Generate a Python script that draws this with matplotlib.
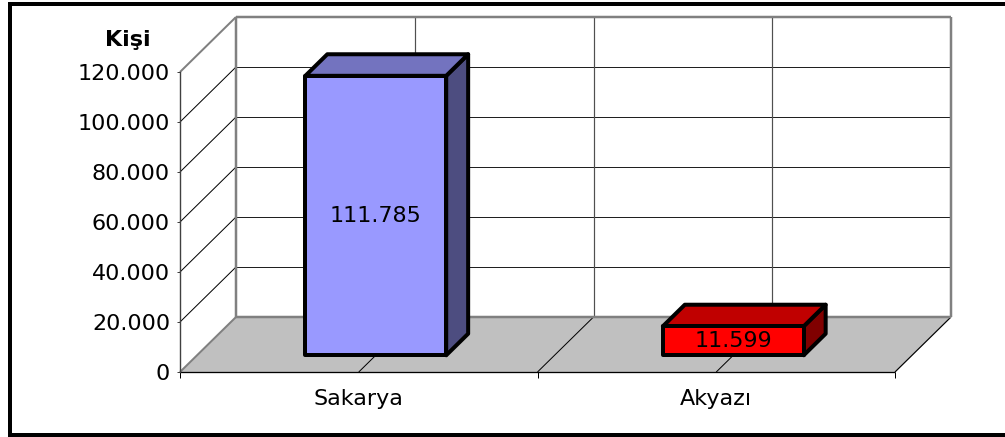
import matplotlib
matplotlib.use("Agg")
import matplotlib.pyplot as plt
from matplotlib.patches import Polygon
from matplotlib.lines import Line2D
from matplotlib.ticker import FuncFormatter

# ---- data ----
categories = ["Sakarya", "Akyazı"]
values = [111785, 11599]
front_colors = ["#9999FF", "#FF0000"]
top_colors = ["#7373BF", "#C00000"]
side_colors = ["#4D4D80", "#800000"]
y_ticks = [0, 20000, 40000, 60000, 80000, 100000, 120000]
y_label = "Kişi"


def fmt(v, pos=None):
    return f"{int(round(v)):,}".replace(",", ".")


plt.rcParams['font.family'] = ['DejaVu Sans']
FS = 16

W, H = 1005, 437
fig = plt.figure(figsize=(W / 100, H / 100), dpi=100)
ax = fig.add_axes([180 / W, (H - 372) / H, 715 / W, 300 / H])
ax.set_xlim(0, len(categories))
ax.set_ylim(y_ticks[0], y_ticks[-1])
ax.patch.set_visible(False)
for s in ['top', 'right', 'bottom']:
    ax.spines[s].set_visible(False)
ax.spines['left'].set_color('#404040')
ax.spines['left'].set_linewidth(1.0)
ax.spines['left'].set_zorder(6)

# depth offset (in data units) equivalent to 56px right, 55px up
DX = 56 / 715 * len(categories)
DY = 55 / 300 * (y_ticks[-1] - y_ticks[0])
YMAX = y_ticks[-1]
NC = len(categories)


def P(x, y, d):
    return (x + d * DX, y + d * DY)


def line(p, q, color, lw, z=2):
    ax.add_line(Line2D([p[0], q[0]], [p[1], q[1]], color=color, lw=lw,
                       zorder=z, clip_on=False, solid_capstyle='butt'))


px = 0.72  # points per pixel

# floor
ax.add_patch(Polygon([P(0, 0, 0), P(NC, 0, 0), P(NC, 0, 1), P(0, 0, 1)],
                     closed=True, facecolor='#C0C0C0', edgecolor='none',
                     zorder=1, clip_on=False))
# floor diagonals at category centers and boundaries
for xi in [i * 0.5 for i in range(1, 2 * NC)]:
    line(P(xi, 0, 0), P(xi, 0, 1), 'black', 1 * px, 2)
line(P(NC, 0, 0), P(NC, 0, 1), 'black', 1.2 * px, 2)
line(P(0, 0, 0), P(0, 0, 1), '#808080', 2 * px, 2)

# back wall gridlines
for yv in y_ticks[1:-1]:
    line(P(0, yv, 1), P(NC, yv, 1), '#202020', 1 * px, 2)
    line(P(0, yv, 0), P(0, yv, 1), 'black', 1 * px, 2)
for xi in [i * 0.5 for i in range(1, 2 * NC)]:
    line(P(xi, 0, 1), P(xi, YMAX, 1), '#505050', 1.2 * px, 2)
# wall edges
line(P(0, YMAX, 0), P(0, YMAX, 1), '#808080', 2 * px, 3)
line(P(0, YMAX, 1), P(NC, YMAX, 1), '#808080', 2.5 * px, 3)
line(P(0, 0, 1), P(0, YMAX, 1), '#808080', 2.5 * px, 3)
line(P(NC, 0, 1), P(NC, YMAX, 1), '#808080', 2.5 * px, 3)
line(P(0, 0, 1), P(NC, 0, 1), '#808080', 2.5 * px, 3)
# front category axis line
line(P(0, 0, 0), P(NC, 0, 0), 'black', 1.3 * px, 4)

# bars
BW = 0.394
D0, D1 = 0.304, 0.696
for i, (cat, v) in enumerate(zip(categories, values)):
    xc = i + 0.5
    x0, x1 = xc - BW / 2, xc + BW / 2
    faces = [
        ([P(x1, 0, D0), P(x1, 0, D1), P(x1, v, D1), P(x1, v, D0)], side_colors[i]),
        ([P(x0, v, D0), P(x1, v, D0), P(x1, v, D1), P(x0, v, D1)], top_colors[i]),
        ([P(x0, 0, D0), P(x1, 0, D0), P(x1, v, D0), P(x0, v, D0)], front_colors[i]),
    ]
    for verts, col in faces:
        ax.add_patch(Polygon(verts, closed=True, facecolor=col,
                             edgecolor='black', lw=4 * px, joinstyle='round',
                             zorder=5, clip_on=False))
    tx, ty = P(xc, v / 2, D0)
    ax.text(tx, ty, fmt(v), ha='center', va='center', fontsize=FS,
            color='black', zorder=7)

# y axis ticks
ax.set_yticks(y_ticks)
ax.yaxis.set_major_formatter(FuncFormatter(fmt))
ax.tick_params(axis='y', which='major', length=3 * px, width=1 * px,
               color='#404040', direction='out', pad=5, labelsize=FS,
               labelcolor='black')

# x axis ticks
ax.set_xticks([i + 0.5 for i in range(NC)])
ax.set_xticklabels(categories)
ax.set_xticks([i for i in range(NC + 1)], minor=True)
ax.tick_params(axis='x', which='major', length=0, pad=12, labelsize=FS,
               labelcolor='black')
ax.tick_params(axis='x', which='minor', length=6 * px, width=1 * px,
               color='black', direction='out')

# axis title
fig.text(128 / W, 1 - 40 / H, y_label, ha='center', va='center',
         fontsize=FS, fontweight='bold', color='black')

# outer frame (right edge is cut off in the original): left, top, bottom
frame_kw = dict(color='black', lw=4 * px, transform=fig.transFigure,
                solid_capstyle='projecting')
fig.add_artist(Line2D([10 / W, 10 / W], [2 / H, 1 - 4 / H], **frame_kw))
fig.add_artist(Line2D([10 / W, 1.02], [1 - 4 / H, 1 - 4 / H], **frame_kw))
fig.add_artist(Line2D([10 / W, 1.02], [2 / H, 2 / H], **frame_kw))

fig.savefig("out.png", dpi=100)
